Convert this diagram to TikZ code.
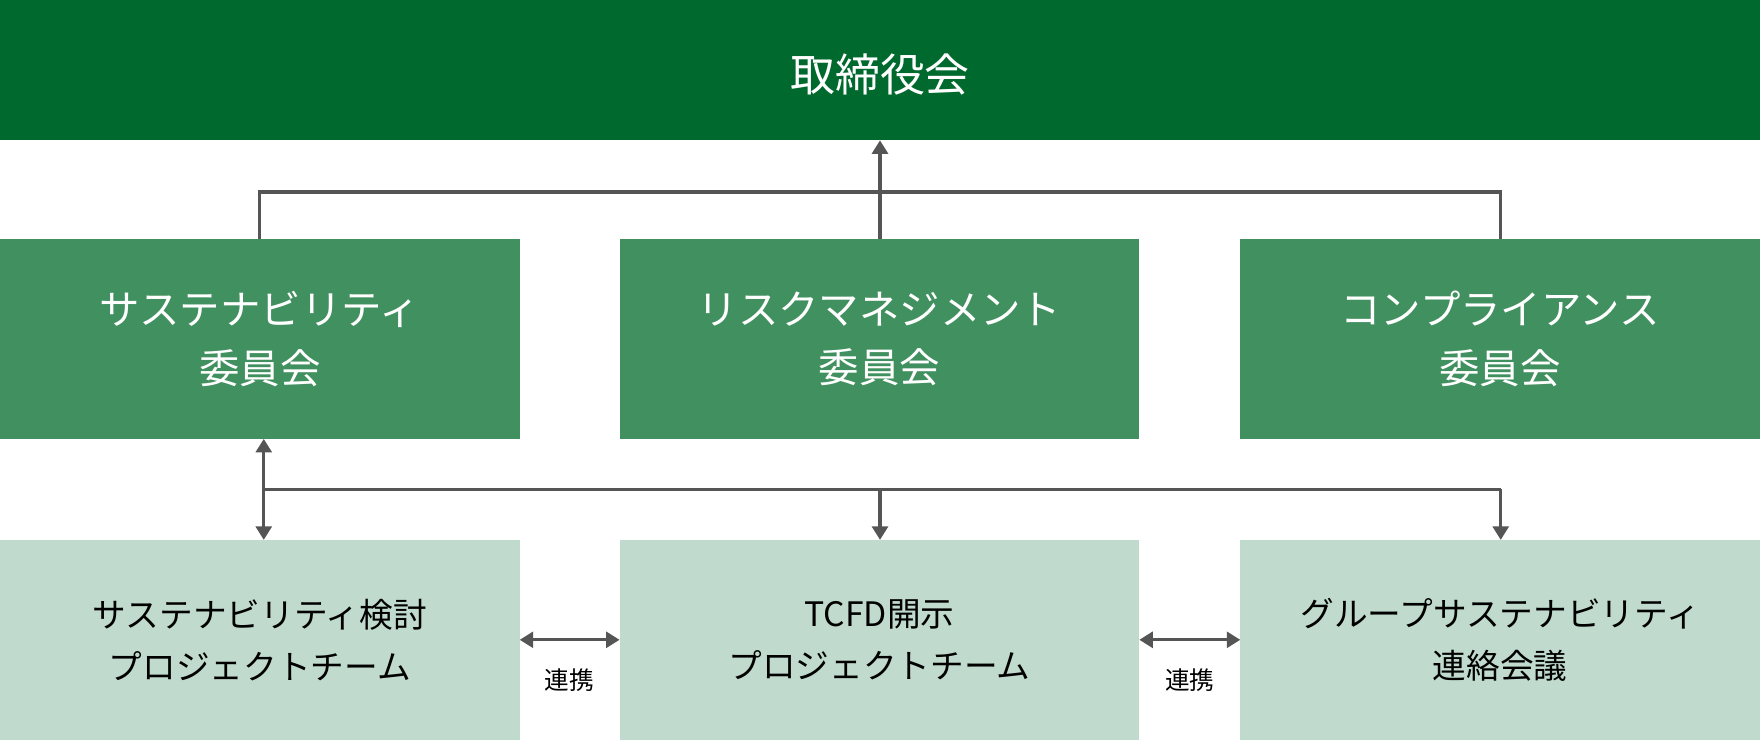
\documentclass[tikz,border=0pt]{standalone}
\usepackage{fontspec}
\newfontfamily\cjk{Noto Sans CJK JP}
\usetikzlibrary{arrows.meta}
\definecolor{topg}{HTML}{006A2E}
\definecolor{midg}{HTML}{41905F}
\definecolor{lowg}{HTML}{C0DBCD}
\definecolor{ln}{HTML}{555555}
\begin{document}
\begin{tikzpicture}[x=0.5pt,y=-0.5pt,font=\cjk,
  midbox/.style={fill=midg,draw=none,text=white,font=\cjk\fontsize{18}{26}\selectfont,align=center},
  lowbox/.style={fill=lowg,draw=none,text=black,font=\cjk\fontsize{15}{23}\selectfont,align=center},
  conn/.style={draw=ln,line width=1.5pt,-{Triangle[length=6pt,width=7pt]}},
  dconn/.style={draw=ln,line width=1.5pt,{Triangle[length=6pt,width=7pt]}-{Triangle[length=6pt,width=7pt]}},
  plain/.style={draw=ln,line width=1.5pt}]
\useasboundingbox (0,0) rectangle (1568,659);
\fill[topg] (0,0) rectangle (1568,125);
\node[text=white,font=\cjk\fontsize{20}{24}\selectfont] (top) at (784,66) {取締役会};
\coordinate (topb) at (784,125);
\fill[midg] (0,213) rectangle (463,391);
\fill[midg] (552,213) rectangle (1015,391);
\fill[midg] (1105,213) rectangle (1568,391);
\node[midbox] (m1) at (231.5,302) {サステナビリティ\\委員会};
\node[midbox] (m2) at (783.5,302) {リスクマネジメント\\委員会};
\node[midbox] (m3) at (1336.5,302) {コンプライアンス\\委員会};
\fill[lowg] (0,481) rectangle (463,659);
\fill[lowg] (552,481) rectangle (1015,659);
\fill[lowg] (1105,481) rectangle (1568,659);
\node[lowbox] (b1) at (231.5,570) {サステナビリティ検討\\プロジェクトチーム};
\node[lowbox] (b2) at (783.5,570) {TCFD開示\\プロジェクトチーム};
\node[lowbox] (b3) at (1336.5,570) {グループサステナビリティ\\連絡会議};
% top connectors
\coordinate (m1t) at (231,213); \coordinate (m2t) at (784,213); \coordinate (m3t) at (1337,213);
\draw[plain] (m1t) -- (231,171) -- (1337,171) -- (m3t);
\draw[conn] (m2t) -- (topb);
% lower connectors
\coordinate (m1b) at (235,391); \coordinate (b1t) at (235,481);
\coordinate (b2t) at (784,481); \coordinate (b3t) at (1337,481);
\draw[dconn] (m1b) -- (b1t);
\draw[plain] (235,436) -- (1337,436);
\draw[conn] (784,436) -- (b2t);
\draw[conn] (1337,436) -- (b3t);
% horizontal
\coordinate (b1r) at (463,570); \coordinate (b2l) at (552,570);
\coordinate (b2r) at (1015,570); \coordinate (b3l) at (1105,570);
\draw[dconn] (b1r) -- (b2l);
\draw[dconn] (b2r) -- (b3l);
\node[font=\cjk\fontsize{11}{13}\selectfont] (r1) at (507.5,606) {連携};
\node[font=\cjk\fontsize{11}{13}\selectfont] (r2) at (1060,606) {連携};
\end{tikzpicture}
\end{document}
